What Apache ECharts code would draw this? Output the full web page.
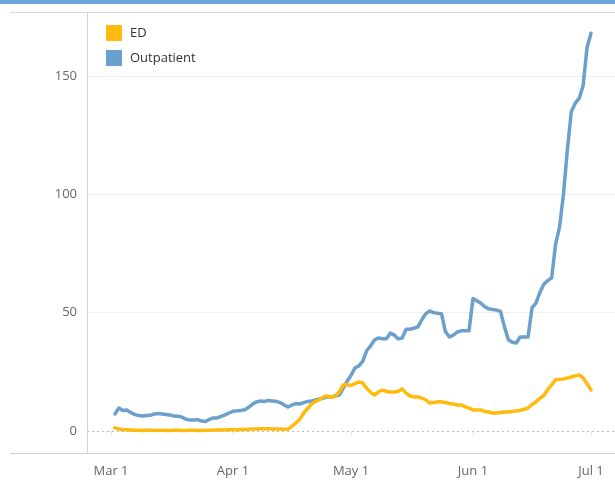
<!DOCTYPE html>
<html>
<head>
<meta charset="utf-8">
<script src="https://cdn.jsdelivr.net/npm/echarts@6/dist/echarts.min.js"></script>
<style>
  html, body { margin: 0; padding: 0; background: #fff; }
  #chart { width: 615px; height: 481px; }
</style>
</head>
<body>
<div id="chart"></div>
<script>
// Days counted from Mar 1 (day 0); series start on day 1 (Mar 2)
const firstDay = 1;
const seriesNames = ["ED", "Outpatient"];
const edValues = [
  1.3, 0.8, 0.6, 0.5, 0.4, 0.3, 0.3, 0.2, 0.3, 0.3,
  0.2, 0.3, 0.3, 0.2, 0.2, 0.3, 0.3, 0.2, 0.2, 0.3,
  0.3, 0.2, 0.2, 0.3, 0.3, 0.3, 0.4, 0.4, 0.4, 0.5,
  0.5, 0.5, 0.6, 0.6, 0.7, 0.8, 0.8, 0.9, 0.9, 0.9,
  0.8, 0.8, 0.8, 0.7, 0.8, 2.0, 3.4, 5.0, 7.6, 9.5,
  11.4, 12.5, 13.2, 14.4, 14.8, 14.2, 14.6, 16.5, 19.4, 19.6,
  19.2, 20.0, 20.7, 20.3, 18.0, 16.3, 15.2, 16.5, 17.3, 16.7,
  16.5, 16.5, 16.8, 17.8, 16.0, 14.8, 14.4, 14.4, 13.9, 13.2,
  11.8, 12.0, 12.3, 12.3, 12.0, 11.6, 11.4, 11.0, 11.0, 10.3,
  9.7, 8.9, 8.9, 8.9, 8.2, 8.0, 7.6, 7.6, 7.8, 8.0,
  8.0, 8.2, 8.5, 8.7, 9.2, 9.7, 11.2, 12.3, 13.8, 15.0,
  17.5, 19.5, 21.6, 21.8, 22.0, 22.4, 22.8, 23.3, 23.7, 22.4,
  20.0, 17.3
];
const outpatientValues = [
  7.2, 9.7, 8.7, 8.9, 7.8, 7.0, 6.5, 6.3, 6.5, 6.6,
  7.2, 7.4, 7.2, 7.0, 6.8, 6.3, 6.2, 5.9, 5.0, 4.6,
  4.6, 4.8, 4.2, 4.0, 4.9, 5.5, 5.5, 6.2, 6.8, 7.6,
  8.3, 8.5, 8.7, 9.0, 10.0, 11.4, 12.3, 12.7, 12.5, 12.9,
  12.7, 12.5, 12.0, 11.0, 10.1, 11.0, 11.6, 11.4, 12.0, 12.5,
  12.7, 13.1, 13.5, 13.9, 14.4, 14.4, 14.8, 15.2, 18.0, 21.0,
  23.5, 26.6, 27.5, 29.5, 34.0, 36.0, 38.5, 39.3, 39.0, 39.0,
  41.4, 40.5, 38.9, 39.3, 43.0, 43.0, 43.4, 44.0, 47.0, 49.5,
  50.7, 50.0, 49.7, 49.5, 42.0, 39.7, 40.5, 41.8, 42.3, 42.3,
  42.3, 56.0, 55.0, 54.0, 52.5, 51.6, 51.3, 51.1, 50.5, 44.0,
  38.5, 37.5, 37.2, 39.7, 39.7, 39.7, 52.0, 54.0, 58.5, 62.0,
  63.5, 64.7, 79.0, 86.0, 100.0, 119.0, 135.0, 138.5, 140.5, 146.0,
  162.0, 168.0
];
const xTickDays = [0, 31, 61, 92, 122];
const xTickLabels = ["Mar 1", "Apr 1", "May 1", "Jun 1", "Jul 1"];
const yTickValues = [0, 50, 100, 150];

const toPairs = vals => vals.map((v, i) => [firstDay + i, v]);

const chart = echarts.init(document.getElementById('chart'), null, { renderer: 'canvas' });
const FONT = '"Open Sans", "Noto Sans", sans-serif';

chart.setOption({
  backgroundColor: '#ffffff',
  animation: false,
  textStyle: { fontFamily: FONT },
  graphic: [
    { type: 'rect', shape: { x: 0, y: 0, width: 615, height: 4 }, style: { fill: '#6ea7da' }, silent: true },
    { type: 'line', shape: { x1: 10, y1: 12.5, x2: 615, y2: 12.5 }, style: { stroke: '#d9d9d9', lineWidth: 1 }, silent: true },
    { type: 'line', shape: { x1: 10, y1: 453.5, x2: 615, y2: 453.5 }, style: { stroke: '#cfcfcf', lineWidth: 1 }, silent: true },
    { type: 'line', shape: { x1: 87.5, y1: 12, x2: 87.5, y2: 454 }, style: { stroke: '#d4d4d4', lineWidth: 1 }, silent: true }
  ],
  legend: {
    orient: 'vertical',
    left: 106,
    top: 25,
    padding: 0,
    icon: 'rect',
    itemWidth: 16,
    itemHeight: 16,
    itemGap: 9,
    data: seriesNames,
    textStyle: { fontFamily: FONT, fontSize: 13, color: '#333', padding: [0, 0, 0, 3] }
  },
  grid: { left: 87, right: 0, top: 12, bottom: 28, containLabel: false },
  xAxis: {
    type: 'value',
    min: -6.1,
    max: 128.1,
    axisLine: { show: false },
    splitLine: { show: false },
    axisTick: { show: true, customValues: xTickDays, length: 4, lineStyle: { color: '#e0e0e0' } },
    axisLabel: {
      customValues: xTickDays,
      margin: 12,
      fontFamily: FONT,
      fontSize: 13,
      color: '#666',
      formatter: v => xTickLabels[xTickDays.indexOf(v)] || ''
    }
  },
  yAxis: {
    type: 'value',
    min: -9.3,
    max: 177,
    axisLine: { show: false },
    splitLine: { show: false },
    axisTick: { show: true, customValues: yTickValues, length: 6, lineStyle: { color: '#eeeeee' } },
    axisLabel: { customValues: yTickValues, margin: 10, fontFamily: FONT, fontSize: 13, color: '#666' }
  },
  series: [
    {
      name: seriesNames[0],
      type: 'line',
      data: toPairs(edValues),
      color: '#ffbb0d',
      showSymbol: false,
      symbol: 'none',
      lineStyle: { width: 3.5, cap: 'round', join: 'round' },
      z: 3,
      markLine: {
        silent: true,
        symbol: 'none',
        label: { show: false },
        animation: false,
        z: 1,
        data: [
          { yAxis: 50, lineStyle: { color: '#efefef', width: 1, type: 'solid' } },
          { yAxis: 100, lineStyle: { color: '#efefef', width: 1, type: 'solid' } },
          { yAxis: 150, lineStyle: { color: '#efefef', width: 1, type: 'solid' } },
          { yAxis: 0, lineStyle: { color: '#bdbdbd', width: 1, type: [2, 3] } }
        ]
      }
    },
    {
      name: seriesNames[1],
      type: 'line',
      data: toPairs(outpatientValues),
      color: '#6b9fcc',
      showSymbol: false,
      symbol: 'none',
      lineStyle: { width: 3.5, cap: 'round', join: 'round' },
      z: 2
    }
  ]
});
</script>
</body>
</html>
